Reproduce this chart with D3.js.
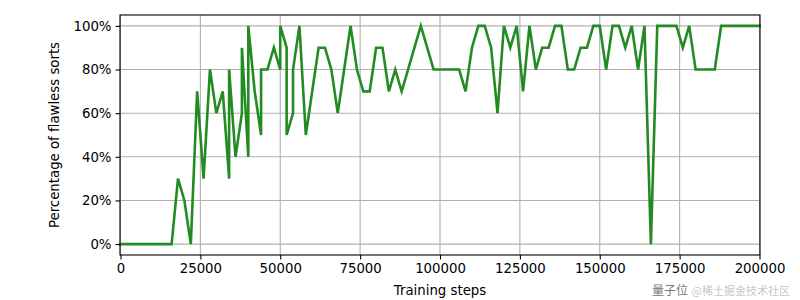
<!DOCTYPE html>
<html>
<head>
<meta charset="utf-8">
<script src="https://cdn.jsdelivr.net/npm/d3@7"></script>
<style>
  html, body { margin: 0; padding: 0; background: #fff; }
  svg { display: block; }
  text { font-family: "DejaVu Sans", sans-serif; }
</style>
</head>
<body>
<svg id="chart" width="800" height="300"></svg>
<script>
// Training steps (x) and percentage of flawless sorts (y)
const steps = [
  0, 2000, 4000, 6000, 8000, 10000, 12000, 14000, 16000,
  18000, 20000, 22000, 24000, 26000, 28000, 30000, 32000,
  34000, 34000, 36000, 38000, 38000, 40000, 40000, 42000,
  44000, 44000, 46000, 48000, 50000, 50000, 52000, 52000,
  54000, 54000, 56000, 58000, 60000, 62000, 64000, 66000,
  68000, 70000, 72000, 74000, 76000, 78000, 80000, 82000,
  84000, 86000, 88000, 90000, 92000, 94000, 96000, 98000,
  100000, 102000, 104000, 106000, 108000, 110000, 112000, 114000,
  116000, 118000, 120000, 122000, 124000, 126000, 128000, 130000,
  132000, 134000, 136000, 138000, 140000, 142000, 144000, 146000,
  148000, 150000, 152000, 154000, 156000, 158000, 160000, 162000,
  164000, 166000, 168000, 170000, 172000, 174000, 176000, 178000,
  180000, 182000, 184000, 186000, 188000, 190000, 192000, 194000,
  196000, 198000, 200000
];
const flawless = [
  0, 0, 0, 0, 0, 0, 0, 0, 0,
  30, 20, 0, 70, 30, 80, 60, 70,
  30, 80, 40, 60, 90, 40, 100, 70,
  50, 80, 80, 90, 80, 100, 90, 50,
  60, 80, 100, 50, 70, 90, 90, 80,
  60, 80, 100, 80, 70, 70, 90, 90,
  70, 80, 70, 80, 90, 100, 90, 80,
  80, 80, 80, 80, 70, 90, 100, 100,
  90, 60, 100, 90, 100, 70, 100, 80,
  90, 90, 100, 100, 80, 80, 90, 90,
  100, 100, 80, 100, 100, 90, 100, 80,
  100, 0, 100, 100, 100, 100, 90, 100,
  80, 80, 80, 80, 100, 100, 100, 100,
  100, 100, 100
];
const xTicks = [0, 25000, 50000, 75000, 100000, 125000, 150000, 175000, 200000];
const yTicks = [0, 20, 40, 60, 80, 100];
const xLabel = "Training steps";
const yLabel = "Percentage of flawless sorts";

const data = steps.map((s, i) => ({ x: s, y: flawless[i] }));

const W = 800, H = 300;
const m = { left: 120, right: 40, top: 15, bottom: 45 };
const svg = d3.select("#chart");

const x = d3.scaleLinear().domain([0, 200000]).range([m.left + 0.5, W - m.right - 0.5]);
const y = d3.scaleLinear().domain([-5, 105]).range([H - m.bottom, m.top]);

// grid
const grid = svg.append("g");
grid.selectAll("line.vx").data(xTicks).join("line")
  .attr("x1", d => x(d)).attr("x2", d => x(d))
  .attr("y1", m.top).attr("y2", H - m.bottom)
  .attr("stroke", "#b0b0b0").attr("stroke-width", 1.1);
grid.selectAll("line.hy").data(yTicks).join("line")
  .attr("y1", d => y(d)).attr("y2", d => y(d))
  .attr("x1", m.left).attr("x2", W - m.right)
  .attr("stroke", "#b0b0b0").attr("stroke-width", 1.1);

// line
const line = d3.line().x(d => x(d.x)).y(d => y(d.y));
svg.append("path").datum(data)
  .attr("d", line)
  .attr("fill", "none")
  .attr("stroke", "#228b22")
  .attr("stroke-width", 2.6)
  .attr("stroke-linejoin", "miter")
  .attr("stroke-linecap", "square");

// frame
svg.append("rect")
  .attr("x", m.left).attr("y", m.top)
  .attr("width", W - m.left - m.right).attr("height", H - m.top - m.bottom)
  .attr("fill", "none").attr("stroke", "#000").attr("stroke-width", 1.1);

// axes
const xAxis = d3.axisBottom(x).tickValues(xTicks).tickFormat(d3.format("d")).tickSizeOuter(0).tickSize(4.5).tickPadding(4);
const gx = svg.append("g").attr("transform", `translate(0,${H - m.bottom})`).call(xAxis);
const yAxis = d3.axisLeft(y).tickValues(yTicks).tickFormat(d => d + "%").tickSizeOuter(0).tickSize(4.5).tickPadding(4);
const gy = svg.append("g").attr("transform", `translate(${m.left},0)`).call(yAxis);
[gx, gy].forEach(g => {
  g.select(".domain").remove();
  g.selectAll(".tick line").attr("stroke", "#000").attr("stroke-width", 1.1);
  g.selectAll(".tick text").attr("fill", "#000")
    .style("font-family", '"DejaVu Sans", sans-serif').style("font-size", "13.3px");
});

// axis labels
svg.append("text").attr("x", (m.left + W - m.right) / 2).attr("y", 295)
  .attr("text-anchor", "middle").style("font-size", "13.3px").attr("fill", "#000").text(xLabel);
svg.append("text").attr("transform", `translate(59,${(m.top + H - m.bottom) / 2}) rotate(-90)`)
  .attr("text-anchor", "middle").style("font-size", "13.3px").attr("fill", "#000").text(yLabel);

// watermark (kept clear of the tick labels)
const wm = svg.append("g").attr("pointer-events", "none");
wm.append("text").attr("x", 688).attr("y", 295).attr("text-anchor", "end")
  .style("font-family", '"Noto Sans CJK SC", sans-serif').style("font-size", "12px")
  .attr("fill", "#555").attr("opacity", 0.8).text("量子位");
wm.append("text").attr("x", 790).attr("y", 295).attr("text-anchor", "end")
  .style("font-family", '"Noto Sans CJK SC", sans-serif').style("font-size", "11px")
  .attr("fill", "#c8c8c8").text("@稀土掘金技术社区");
</script>
</body>
</html>
